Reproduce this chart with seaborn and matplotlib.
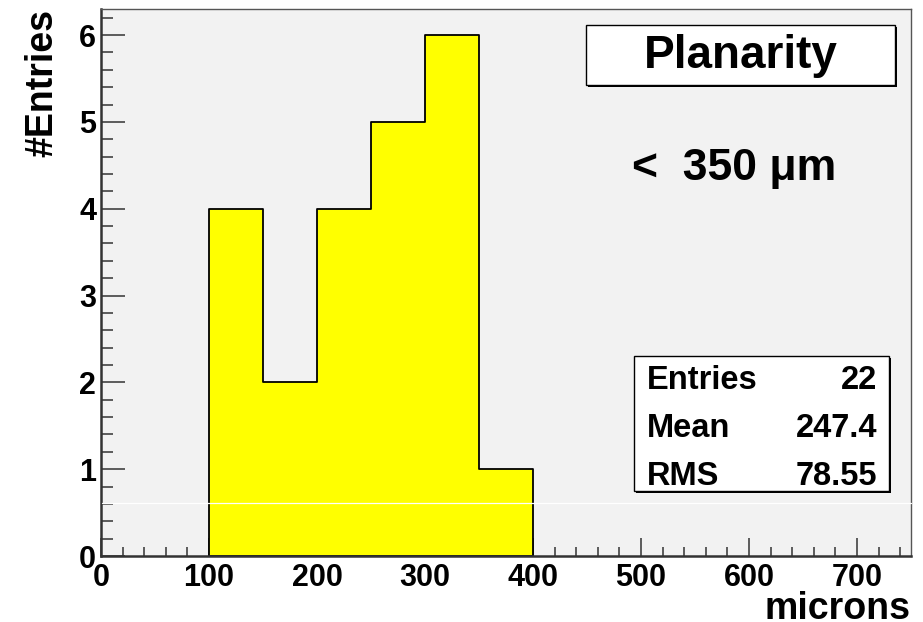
import matplotlib
matplotlib.use("Agg")
import matplotlib.pyplot as plt
import seaborn as sns
import numpy as np
import pandas as pd
from matplotlib.patches import Rectangle
from matplotlib.lines import Line2D
from matplotlib.ticker import MultipleLocator, FixedLocator

# ---- data ----
bin_edges = [100, 150, 200, 250, 300, 350, 400]
bin_counts = [4, 2, 4, 5, 6, 1]
x_ticks = [0, 100, 200, 300, 400, 500, 600, 700]
y_ticks = [0, 1, 2, 3, 4, 5, 6]
stats_labels = ["Entries", "Mean", "RMS"]
stats_values = ["22", "247.4", "78.55"]
title_text = "Planarity"
note_text = "<  350 \u03bcm"
x_label = "microns"
y_label = "#Entries"

sns.set_theme(style="ticks")
plt.rcParams["font.family"] = ["Liberation Sans", "DejaVu Sans"]
plt.rcParams["font.weight"] = "bold"
plt.rcParams["text.color"] = "black"
plt.rcParams["axes.labelcolor"] = "black"
plt.rcParams["xtick.labelcolor"] = "black"
plt.rcParams["ytick.labelcolor"] = "black"

W, H = 923, 622
fig = plt.figure(figsize=(W / 100, H / 100), dpi=100)
fig.patch.set_facecolor("white")


def fx(x):
    return x / W


def fy(y):
    return 1 - y / H


L, R, T, B = 101, 911, 9, 556
ax = fig.add_axes([fx(L), fy(B), (R - L) / W, (B - T) / H])
ax.set_facecolor("#f2f2f2")

df = pd.DataFrame({
    "center": [(a + b) / 2 for a, b in zip(bin_edges[:-1], bin_edges[1:])],
    "count": bin_counts,
})
sns.histplot(data=df, x="center", weights="count", bins=bin_edges,
             element="step", fill=True, color="#ffff00", alpha=1,
             edgecolor="black", linewidth=1.3, ax=ax)

ax.set_xlim(0, 750)
ax.set_ylim(0, 6.3)
ax.xaxis.set_major_locator(FixedLocator(x_ticks))
ax.yaxis.set_major_locator(FixedLocator(y_ticks))
ax.xaxis.set_minor_locator(MultipleLocator(20))
ax.yaxis.set_minor_locator(MultipleLocator(0.2))
ax.set_xticklabels([str(v) for v in x_ticks], fontsize=22, fontweight="bold")
ax.set_yticklabels([str(v) for v in y_ticks], fontsize=22, fontweight="bold")

ax.tick_params(axis="x", which="major", direction="in", length=13, width=1.1,
               color="#333333", labelcolor="black", pad=5.0, top=False)
ax.tick_params(axis="x", which="minor", direction="in", length=6.5, width=1.1,
               color="#333333", top=False)
ax.tick_params(axis="y", which="major", direction="in", length=17, width=1.1,
               color="#333333", labelcolor="black", pad=3.5, right=False)
ax.tick_params(axis="y", which="minor", direction="in", length=8.6, width=1.1,
               color="#333333", right=False)

for s in ["left", "bottom"]:
    ax.spines[s].set_linewidth(1.8)
    ax.spines[s].set_color("#333333")
for s in ["top", "right"]:
    ax.spines[s].set_linewidth(1.0)
    ax.spines[s].set_color("#555555")
    ax.spines[s].set_visible(True)

ax.set_xlabel(x_label, fontsize=27, fontweight="bold", loc="right", color="black")
ax.set_ylabel(y_label, fontsize=27, fontweight="bold", loc="top", color="black")
ax.xaxis.set_label_coords(1.0, (B - 591) / (B - T))
ax.yaxis.set_label_coords((60 - L) / (R - L), 1.0)

# scan artifact line
fig.add_artist(Line2D([fx(L + 1), fx(R)], [fy(503), fy(503)],
                      color="white", lw=0.9, zorder=10))


def shadow_box(x0, y0, x1, y1, off=2):
    fig.add_artist(Rectangle((fx(x0 + off), fy(y1 + off)), (x1 - x0) / W,
                             (y1 - y0) / H, facecolor="black", edgecolor="black",
                             lw=0, zorder=20))
    fig.add_artist(Rectangle((fx(x0), fy(y1)), (x1 - x0) / W, (y1 - y0) / H,
                             facecolor="white", edgecolor="black", lw=1.0,
                             zorder=21))


# title box
shadow_box(586, 25, 895, 85)
fig.text(fx(740.5), fy(68), title_text, ha="center", va="baseline",
         fontsize=33, fontweight="bold", color="black", zorder=22)

# note
fig.text(fx(632), fy(180), note_text, ha="left", va="baseline",
         fontsize=32, fontweight="bold", color="black", zorder=22)

# stats box
shadow_box(634, 356, 889, 491)
for i, (lab, val) in enumerate(zip(stats_labels, stats_values)):
    yb = 389 + 48 * i
    fig.text(fx(647), fy(yb), lab, ha="left", va="baseline", fontsize=23.5,
             fontweight="bold", color="black", zorder=22)
    fig.text(fx(877), fy(yb), val, ha="right", va="baseline", fontsize=23.5,
             fontweight="bold", color="black", zorder=22)

fig.savefig("out.png", dpi=100, facecolor="white")
